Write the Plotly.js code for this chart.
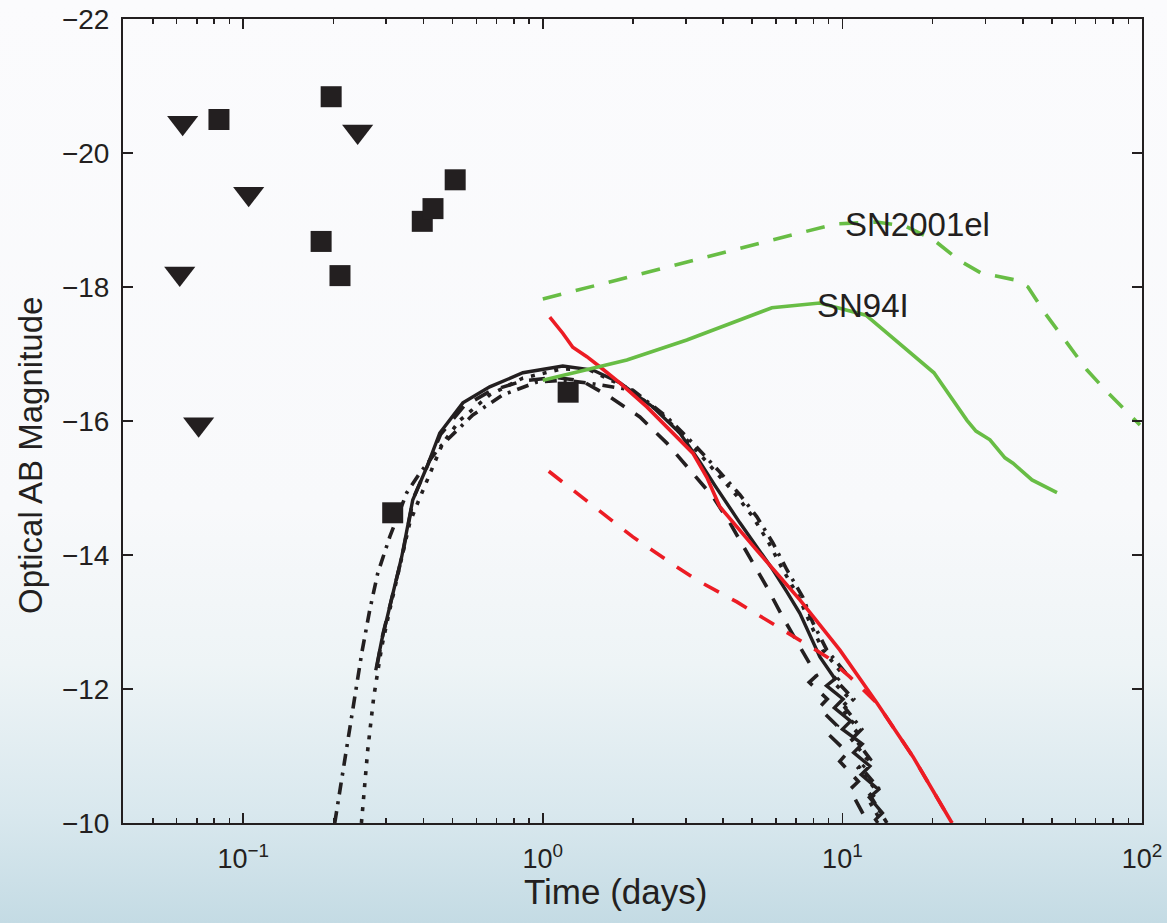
<!DOCTYPE html>
<html>
<head>
<meta charset="utf-8">
<script src="https://cdn.plot.ly/plotly-3.0.1.min.js"></script>
<style>
  html, body { margin: 0; padding: 0; }
  body {
    width: 1167px; height: 923px; overflow: hidden;
    background: linear-gradient(to bottom, #fbfbfd 0%, #f8f9fb 55%, #eef4f6 72%, #d9e8ee 88%, #c4dbe4 100%);
  }
  #chart { width: 1167px; height: 923px; }
</style>
</head>
<body>
<div id="chart"></div>
<script>
// ---- Observations ----
const detT   = [0.0830, 0.1966, 0.182, 0.2104, 0.396, 0.430, 0.510, 0.3155, 1.215];
const detMag = [-20.50, -20.84, -18.68, -18.17, -18.98, -19.17, -19.60, -14.63, -16.43];
const limT   = [0.0628, 0.1043, 0.241, 0.0614, 0.0710];
const limMag = [-20.45, -19.39, -20.32, -18.20, -15.95];

// ---- Model light curves (black) ----
const tSolid = [0.277,0.290,0.338,0.368,0.410,0.453,0.541,0.665,0.858,1.166,1.469,1.807,2.330,2.867,3.344,3.752,4.548,5.183,5.861,6.526,7.213,8.411,9.45,8.85,10.05,9.40,10.65,10.0,11.65,10.9,12.35,11.55,13.2,12.3,13.6,12.9,13.14];
const mSolid = [-12.28,-12.73,-13.97,-14.82,-15.31,-15.82,-16.27,-16.51,-16.72,-16.82,-16.76,-16.57,-16.21,-15.82,-15.39,-15.04,-14.48,-14.12,-13.78,-13.45,-13.13,-12.48,-12.15,-12.05,-11.85,-11.72,-11.52,-11.40,-11.18,-11.05,-10.85,-10.72,-10.50,-10.38,-10.15,-10.05,-10.00];

const tDash = [0.280,0.292,0.340,0.370,0.412,0.456,0.545,0.670,0.860,1.100,1.350,1.674,2.109,2.594,3.096,3.695,4.211,4.912,5.596,6.329,7.213,8.20,7.75,8.9,8.35,9.6,9.0,10.4,9.8,11.3,10.6,12.17];
const mDash = [-12.35,-12.80,-14.00,-14.85,-15.33,-15.80,-16.22,-16.45,-16.60,-16.65,-16.60,-16.36,-16.06,-15.67,-15.27,-14.87,-14.48,-13.97,-13.52,-13.07,-12.63,-12.20,-12.10,-11.85,-11.72,-11.45,-11.32,-11.05,-10.92,-10.62,-10.50,-10.00];

const tDashDot = [0.2021,0.2216,0.2357,0.2488,0.2645,0.2813,0.3084,0.3515,0.3885,0.4530,0.5839,0.7353,0.955,1.166,1.403,1.998,2.594,3.168,3.840,4.548,5.183,5.861,6.526,7.380,7.970,8.877,10.2,9.55,10.9,10.2,11.6,10.9,12.4,11.6,13.3,12.5,14.08];
const mDashDot = [-10.00,-11.13,-11.88,-12.54,-13.18,-13.73,-14.27,-14.93,-15.22,-15.61,-16.09,-16.39,-16.58,-16.61,-16.57,-16.46,-16.06,-15.67,-15.27,-14.90,-14.57,-14.18,-13.78,-13.37,-12.99,-12.58,-12.25,-12.12,-11.85,-11.72,-11.40,-11.28,-10.95,-10.82,-10.50,-10.38,-10.00];

const tDot = [0.2481,0.2604,0.2727,0.2900,0.3084,0.3331,0.3597,0.3825,0.4196,0.4636,0.5284,0.6653,0.8576,1.166,1.435,1.922,2.459,3.096,3.724,4.410,5.025,5.683,6.329,7.158,7.788,8.607,9.9,9.25,10.6,9.9,11.3,10.6,12.1,11.3,12.9,12.1,13.55];
const mDot = [-10.00,-11.09,-11.88,-12.63,-13.18,-13.82,-14.48,-14.78,-15.22,-15.67,-16.01,-16.39,-16.64,-16.78,-16.76,-16.49,-16.13,-15.67,-15.27,-14.90,-14.57,-14.18,-13.78,-13.37,-12.99,-12.58,-12.25,-12.12,-11.85,-11.72,-11.40,-11.28,-10.95,-10.82,-10.50,-10.38,-10.00];

// ---- Red models ----
const tRed = [1.055,1.166,1.259,1.403,1.550,1.807,2.225,2.655,3.168,3.528,3.899,5.183,7.213,9.811,13.04,17.20,23.21];
const mRed = [-17.55,-17.31,-17.10,-16.96,-16.81,-16.57,-16.21,-15.87,-15.52,-15.16,-14.72,-14.07,-13.33,-12.58,-11.79,-10.99,-10.00];
const tRedDash = [1.047,1.435,1.998,2.802,3.344,4.444,5.596,7.049,8.877,10.59,13.04,17.20,23.21];
const mRedDash = [-15.25,-14.78,-14.27,-13.82,-13.60,-13.30,-13.03,-12.76,-12.48,-12.18,-11.79,-10.99,-10.00];

// ---- Supernova templates (green) ----
const t94I = [1.000,1.908,3.025,5.816,8.411,11.98,20.21,26.05,27.91,31.08,34.88,37.10,42.93,52.03];
const m94I = [-16.61,-16.91,-17.21,-17.69,-17.76,-17.58,-16.72,-16.01,-15.85,-15.72,-15.45,-15.37,-15.12,-14.93];
const t01el = [1.000,9.44,13.0,16.17,20.21,24.68,29.00,38.24,41.63,47.45,65.53,77.0,98.47];
const m01el = [-17.82,-18.94,-18.97,-18.91,-18.70,-18.39,-18.21,-18.10,-18.00,-17.61,-16.76,-16.42,-15.94];

// ---- Labels and ticks ----
const snLabels = ['SN2001el', 'SN94I'];
const snLabelT = [10.04, 8.09];
const snLabelMag = [-18.93, -17.73];
const xTickVals = [0.1, 1, 10, 100];
const xTickText = ['10<sup>\u22121</sup>', '10<sup>0</sup>', '10<sup>1</sup>', '10<sup>2</sup>'];
const xMinorVals = [0.05,0.06,0.07,0.08,0.09,0.2,0.3,0.4,0.5,0.6,0.7,0.8,0.9,2,3,4,5,6,7,8,9,20,30,40,50,60,70,80,90];
const yTickVals = [-22, -20, -18, -16, -14, -12, -10];
const xTitle = 'Time (days)';
const yTitle = 'Optical AB Magnitude';

const BLACK = '#231f20', RED = '#ec1c24', GREEN = '#68bd45';
const FONT = 'Liberation Sans, Arial, Helvetica, sans-serif';

const line = (x, y, color, dash, width) => ({
  type: 'scatter', mode: 'lines', x: x, y: y, hoverinfo: 'skip', showlegend: false,
  line: { color: color, width: width, dash: dash }
});

const traces = [
  line(tDashDot, mDashDot, BLACK, '12px,7px,3px,7px', 3.6),
  line(tDot, mDot, BLACK, '4px,8px', 3.6),
  line(tDash, mDash, BLACK, '16px,13px', 3.6),
  line(tSolid, mSolid, BLACK, 'solid', 3.4),
  line(tRedDash, mRedDash, RED, '17px,15px', 3.6),
  line(tRed, mRed, RED, 'solid', 3.6),
  line(t01el, m01el, GREEN, '19px,15px', 3.6),
  line(t94I, m94I, GREEN, 'solid', 3.6),
  { type: 'scatter', mode: 'markers', x: detT, y: detMag, showlegend: false,
    marker: { symbol: 'square', size: 21, color: BLACK, line: { width: 0 } } },
  { type: 'scatter', mode: 'markers', x: limT, y: limMag, showlegend: false,
    marker: { symbol: 'triangle-down', size: 27, color: BLACK, line: { width: 0 } } }
];

const annotations = snLabels.map((s, i) => ({
  text: s, x: Math.log10(snLabelT[i]), y: snLabelMag[i], xref: 'x', yref: 'y',
  xanchor: 'left', yanchor: 'middle', showarrow: false,
  font: { family: FONT, size: 33, color: BLACK }
}));
annotations.push({
  text: xTitle, xref: 'paper', yref: 'paper', x: 0.4838, y: -0.0858,
  xanchor: 'center', yanchor: 'middle', showarrow: false,
  font: { family: FONT, size: 35, color: BLACK }
});
annotations.push({
  text: yTitle, xref: 'paper', yref: 'paper', x: -0.0913, y: 0.4577, textangle: -90,
  xanchor: 'center', yanchor: 'middle', showarrow: false,
  font: { family: FONT, size: 33, color: BLACK }
});

const layout = {
  width: 1167, height: 923, autosize: false,
  margin: { l: 123, r: 25, t: 19, b: 100 },
  paper_bgcolor: 'rgba(0,0,0,0)', plot_bgcolor: 'rgba(0,0,0,0)',
  font: { family: FONT, color: BLACK },
  showlegend: false,
  xaxis: {
    type: 'log', range: [Math.log10(0.0397), 2],
    tickmode: 'array', tickvals: xTickVals, ticktext: xTickText,
    ticks: 'inside', ticklen: 10, tickwidth: 1.5, tickcolor: BLACK,
    showline: true, linewidth: 2, linecolor: BLACK, mirror: 'allticks',
    showgrid: false, zeroline: false,
    tickfont: { family: FONT, size: 27, color: BLACK },
    ticklabelstandoff: 11,
    minor: { tickmode: 'array', tickvals: xMinorVals, ticks: 'inside', ticklen: 5, tickwidth: 1.5, tickcolor: BLACK, showgrid: false }
  },
  yaxis: {
    range: [-10, -22],
    tickmode: 'array', tickvals: yTickVals,
    ticks: 'inside', ticklen: 10, tickwidth: 1.5, tickcolor: BLACK,
    showline: true, linewidth: 2, linecolor: BLACK, mirror: 'allticks',
    showgrid: false, zeroline: false,
    tickfont: { family: FONT, size: 28, color: BLACK },
    ticklabelstandoff: 6
  },
  annotations: annotations
};

Plotly.newPlot('chart', traces, layout, { displayModeBar: false, staticPlot: true });
</script>
</body>
</html>
